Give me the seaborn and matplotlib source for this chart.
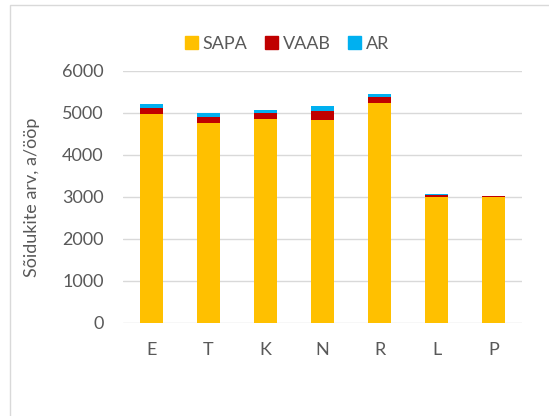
import matplotlib
matplotlib.use("Agg")
import matplotlib.pyplot as plt
import seaborn as sns
import pandas as pd
from matplotlib.patches import Patch, Rectangle

categories = ["E", "T", "K", "N", "R", "L", "P"]
sapa = [4985, 4760, 4860, 4840, 5240, 3010, 2995]
vaab = [140, 145, 140, 205, 140, 40, 20]
ar = [80, 95, 80, 120, 70, 15, 15]

c_sapa = "#FFC000"
c_vaab = "#C00000"
c_ar = "#00B0F0"
txt = "#595959"

df = pd.DataFrame({"cat": categories, "SAPA": sapa, "VAAB": vaab, "AR": ar})
df["sv"] = df["SAPA"] + df["VAAB"]
df["total"] = df["sv"] + df["AR"]

sns.set_theme(style="white")
plt.rcParams["font.family"] = ["Lato", "DejaVu Sans"]

fig = plt.figure(figsize=(5.49, 4.16), dpi=100)
ax = fig.add_axes([0.224, 0.2236, 0.727, 0.6058])

# stacked by overdrawing cumulative sums
for col, c in [("total", c_ar), ("sv", c_vaab), ("SAPA", c_sapa)]:
    sns.barplot(data=df, x="cat", y=col, color=c, width=0.4, saturation=1,
                linewidth=0, ax=ax)

ax.set_ylim(0, 6000)
ax.set_xlim(-0.5, 6.5)
ax.set_yticks(range(0, 6001, 1000))
ax.yaxis.grid(True, color="#d9d9d9", linewidth=1.0)
ax.set_axisbelow(True)
for s in ax.spines.values():
    s.set_visible(False)
ax.tick_params(axis="y", length=0, pad=14, labelsize=13, labelcolor=txt)
ax.tick_params(axis="x", length=0, pad=14, labelsize=13, labelcolor=txt)
ax.set_xlabel("")
ax.set_ylabel("Sõidukite arv, a/ööp", fontsize=13, color=txt)
ax.yaxis.set_label_coords(-0.208, 0.5)

handles = [Patch(color=c_sapa, label="SAPA"),
           Patch(color=c_vaab, label="VAAB"),
           Patch(color=c_ar, label="AR")]
fig.legend(handles=handles, loc="center", bbox_to_anchor=(0.523, 0.894), ncol=3,
           frameon=False, fontsize=13, labelcolor=txt, handlelength=0.7,
           handleheight=0.7, handletextpad=0.25, columnspacing=1.0)

# chart frame
fig.patches.append(Rectangle((10 / 549, -0.1), 1.2, 1 - 5 / 416 + 0.1,
                             transform=fig.transFigure, fill=False,
                             edgecolor="#d9d9d9", linewidth=1.0))

fig.savefig("out.png", dpi=100)
